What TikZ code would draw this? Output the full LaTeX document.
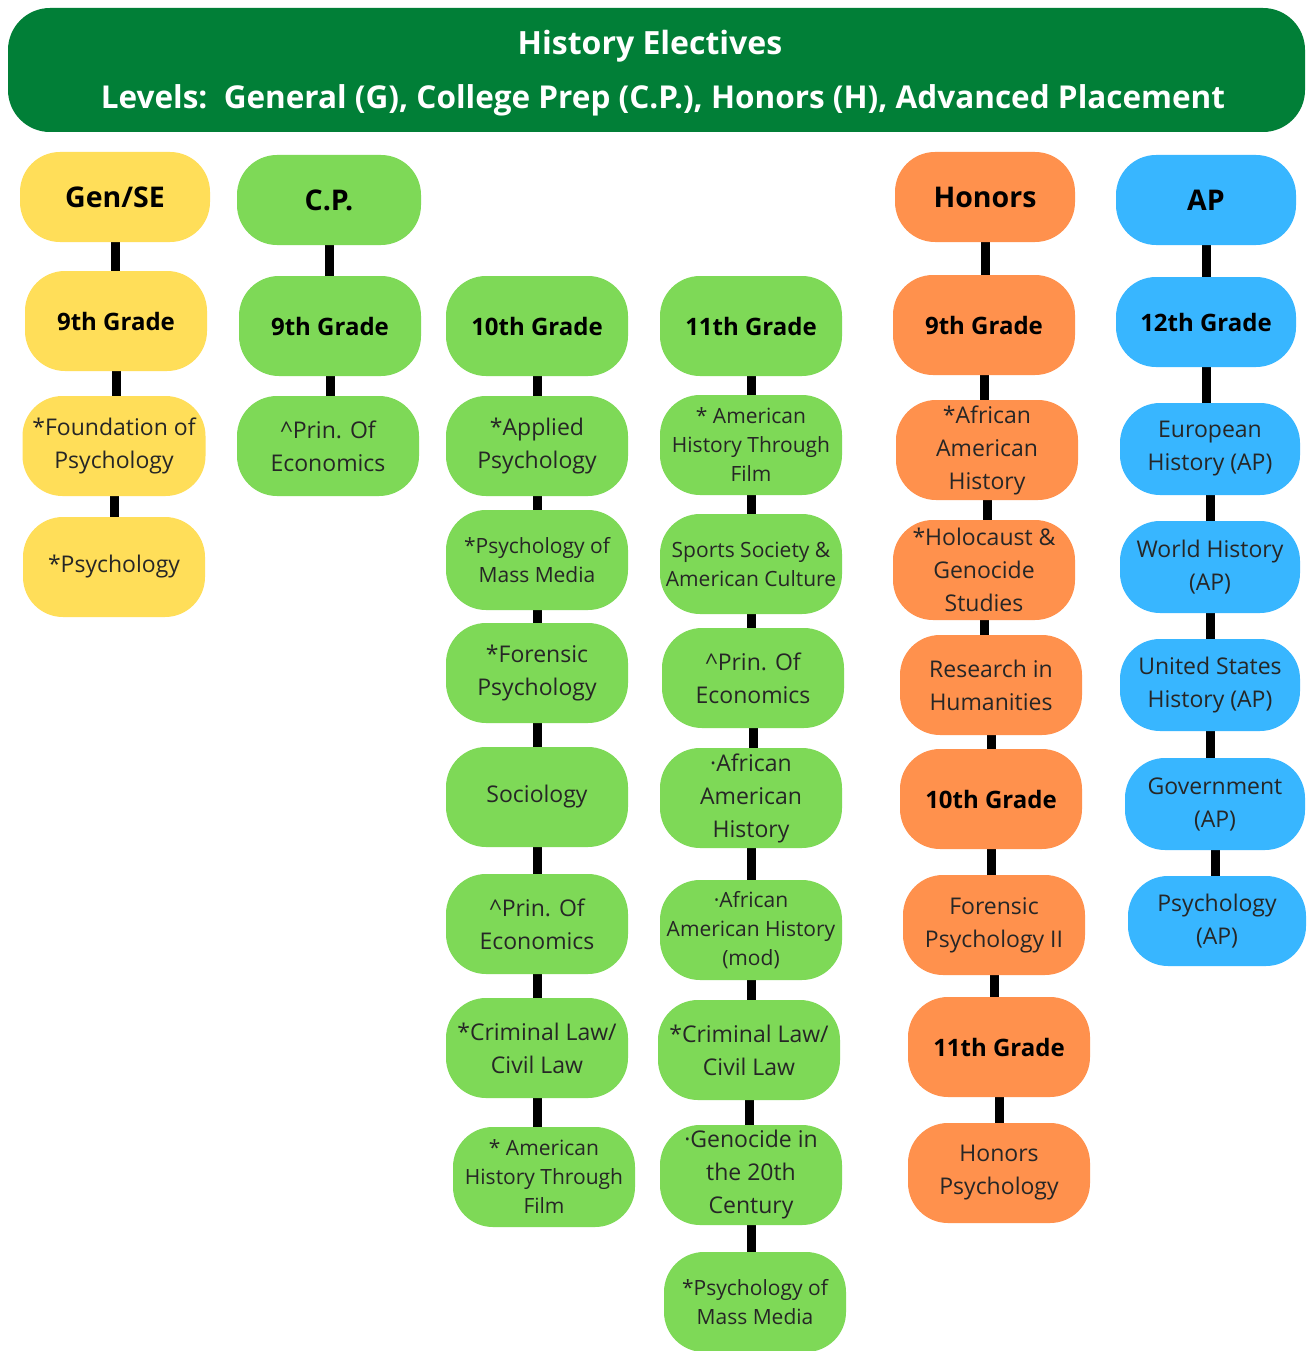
\documentclass[tikz,border=0pt]{standalone}
\usepackage{fontspec}
\setmainfont{Open Sans}
\usetikzlibrary{backgrounds}
\definecolor{hdrgreen}{HTML}{017F37}
\definecolor{cyel}{HTML}{FFDE59}
\definecolor{cgrn}{HTML}{7ED957}
\definecolor{corg}{HTML}{FF914D}
\definecolor{cblu}{HTML}{38B6FF}
\definecolor{txt}{HTML}{262626}
\tikzset{
  x=1pt, y=1pt,
  box/.style={rectangle, rounded corners=40pt, minimum width=182pt, minimum height=100pt, inner sep=0pt, align=center, text=txt},
  ttl/.style={box, minimum height=90pt, font=\fontsize{28.5}{32}\selectfont\bfseries, text=black},
  grd/.style={box, font=\fontsize{24}{28}\selectfont\bfseries, text=black},
  itm/.style={box, font=\fontsize{23}{33}\selectfont},
  sml/.style={box, font=\fontsize{21}{29}\selectfont},
  yel/.style={fill=cyel},
  grn/.style={fill=cgrn},
  org/.style={fill=corg},
  blu/.style={fill=cblu},
  link/.style={line width=9pt, black}
}
\begin{document}
\begin{tikzpicture}
\useasboundingbox (0,0) rectangle (1306,-1351);
% header
\node[rectangle, rounded corners=42pt, fill=hdrgreen, minimum width=1297pt, minimum height=124pt, inner sep=0pt] (header) at (656.5,-70) {};
\node[text=white, font=\fontsize{32}{36}\selectfont\bfseries] (title1) at (650,-46) {History Electives};
\node[text=white, font=\fontsize{31.5}{36}\selectfont\bfseries] (title2) at (663,-100) {Levels:\ \ General (G), College Prep (C.P.), Honors (H), Advanced Placement};

% Gen/SE column
\node[ttl,yel,minimum width=190pt] (g0) at (115,-197) {Gen/SE};
\node[grd,yel] (g1) at (116,-321) {9th Grade};
\node[itm,yel,minimum width=183pt] (g2) at (114,-446) {*Foundation of\\Psychology};
\node[itm,yel] (g3) at (114,-567) {*Psychology};

% C.P. column
\node[ttl,grn,minimum width=184pt] (c0) at (329,-200) {C.P.};
\node[grd,grn] (c1) at (330,-326) {9th Grade};
\node[itm,grn] (c2) at (328,-446) {\textasciicircum Prin. Of\\Economics};

% 10th grade column
\node[grd,grn] (t0) at (537,-326) {10th Grade};
\node[itm,grn] (t1) at (537,-446) {*Applied\\Psychology};
\node[sml,grn] (t2) at (537,-560) {*Psychology of\\Mass Media};
\node[itm,grn] (t3) at (537,-673) {*Forensic\\Psychology};
\node[itm,grn] (t4) at (537,-797) {Sociology};
\node[itm,grn] (t5) at (537,-924) {\textasciicircum Prin. Of\\Economics};
\node[itm,grn] (t6) at (537,-1048) {*Criminal Law/\\Civil Law};
\node[sml,grn] (t7) at (544,-1177) {* American\\History Through\\Film};

% 11th grade column
\node[grd,grn] (e0) at (751,-326) {11th Grade};
\node[sml,grn] (e1) at (751,-445) {* American\\History Through\\Film};
\node[sml,grn] (e2) at (751,-564) {Sports Society \&\\American Culture};
\node[itm,grn] (e3) at (753,-678) {\textasciicircum Prin. Of\\Economics};
\node[itm,grn] (e4) at (751,-798) {·African\\American\\History};
\node[sml,grn] (e5) at (751,-930) {·African\\American History\\(mod)};
\node[itm,grn] (e6) at (749,-1050) {*Criminal Law/\\Civil Law};
\node[itm,grn] (e7) at (751,-1175) {·Genocide in\\the 20th\\Century};
\node[sml,grn] (e8) at (755,-1302) {*Psychology of\\Mass Media};

% Honors column
\node[ttl,org,minimum width=180pt] (h0) at (985,-197) {Honors};
\node[grd,org] (h1) at (984,-325) {9th Grade};
\node[itm,org] (h2) at (987,-450) {*African\\American\\History};
\node[itm,org] (h3) at (984,-570) {*Holocaust \&\\Genocide\\Studies};
\node[itm,org] (h4) at (991,-685) {Research in\\Humanities};
\node[grd,org] (h5) at (991,-799) {10th Grade};
\node[itm,org] (h6) at (994,-925) {Forensic\\Psychology II};
\node[grd,org] (h7) at (999,-1047) {11th Grade};
\node[itm,org] (h8) at (999,-1173) {Honors\\Psychology};

% AP column
\node[ttl,blu,minimum width=180pt] (a0) at (1206,-200) {AP};
\node[grd,blu,minimum width=180pt,minimum height=90pt] (a1) at (1206,-322) {12th Grade};
\node[itm,blu,minimum width=180pt,minimum height=92pt] (a2) at (1210,-449) {European\\History (AP)};
\node[itm,blu,minimum width=180pt,minimum height=92pt] (a3) at (1210,-567) {World History\\(AP)};
\node[itm,blu,minimum width=180pt,minimum height=92pt] (a4) at (1210,-685) {United States\\History (AP)};
\node[itm,blu,minimum width=180pt,minimum height=92pt] (a5) at (1215,-804) {Government\\(AP)};
\node[itm,blu,minimum width=178pt,minimum height=90pt] (a6) at (1217,-921) {Psychology\\(AP)};

\begin{scope}[on background layer]
\fill[white] (0,0) rectangle (1306,-1351);
\foreach \a/\b in {g0/g1,g1/g2,g2/g3, c0/c1,c1/c2,
  t0/t1,t1/t2,t2/t3,t3/t4,t4/t5,t5/t6,t6/t7,
  e0/e1,e1/e2,e2/e3,e3/e4,e4/e5,e5/e6,e6/e7,e7/e8,
  h0/h1,h1/h2,h2/h3,h3/h4,h4/h5,h5/h6,h6/h7,h7/h8,
  a0/a1,a1/a2,a2/a3,a3/a4,a4/a5,a5/a6}
  \draw[link] ([yshift=5pt]\a.south) -- ([yshift=-5pt]\a.south |- \b.north);
\end{scope}
\end{tikzpicture}
\end{document}
